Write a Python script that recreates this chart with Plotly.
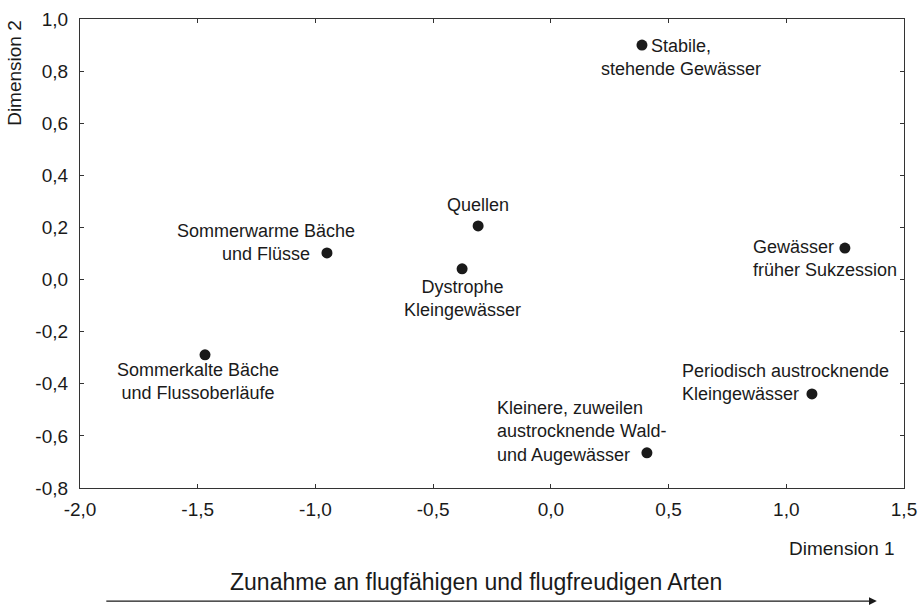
import plotly.graph_objects as go

# Data
labels = [
    "Stabile,<br>stehende Gewässer",
    "Quellen",
    "Dystrophe<br>Kleingewässer",
    "Sommerwarme Bäche<br>und Flüsse",
    "Sommerkalte Bäche<br>und Flussoberläufe",
    "Gewässer<br>früher Sukzession",
    "Periodisch austrocknende<br>Kleingewässer",
    "Kleinere, zuweilen<br>austrocknende Wald-<br>und Augewässer",
]
dim1 = [0.387, -0.309, -0.377, -0.951, -1.469, 1.249, 1.109, 0.408]
dim2 = [0.900, 0.206, 0.041, 0.102, -0.289, 0.121, -0.439, -0.665]

x_tickvals = [-2.0, -1.5, -1.0, -0.5, 0.0, 0.5, 1.0, 1.5]
x_ticktext = ["-2,0", "-1,5", "-1,0", "-0,5", "0,0", "0,5", "1,0", "1,5"]
y_tickvals = [1.0, 0.8, 0.6, 0.4, 0.2, 0.0, -0.2, -0.4, -0.6, -0.8]
y_ticktext = ["1,0", "0,8", "0,6", "0,4", "0,2", "0,0", "-0,2", "-0,4", "-0,6", "-0,8"]

x_title = "Dimension 1"
y_title = "Dimension 2"
arrow_text = "Zunahme an flugfähigen und flugfreudigen Arten"

# label placement styles (xanchor, align, xshift, yshift)
label_style = [
    ("center", "center", 39, -12),
    ("center", "center", 0, 21),
    ("center", "center", 0, -30),
    ("center", "center", -61, 10),
    ("center", "center", -7, -27),
    ("left", "left", -94, -10),
    ("left", "left", -132, 11),
    ("left", "left", -152, 21),
]

FONT = "Liberation Sans, Arial, sans-serif"
INK = "#1a1a1a"

fig = go.Figure()
fig.add_trace(go.Scatter(
    x=dim1, y=dim2, mode="markers",
    marker=dict(size=11, color=INK),
    hoverinfo="skip", showlegend=False,
))

annotations = []
for lab, xv, yv, (xa, al, xs, ys) in zip(labels, dim1, dim2, label_style):
    annotations.append(dict(
        x=xv, y=yv, xref="x", yref="y", text=lab, showarrow=False,
        xanchor=xa, yanchor="middle", align=al, xshift=xs, yshift=ys,
        font=dict(size=18, color=INK, family=FONT),
    ))

annotations.append(dict(
    x=0.991, y=-0.128, xref="paper", yref="paper", text=x_title, showarrow=False,
    xanchor="right", yanchor="middle", font=dict(size=19, color=INK, family=FONT),
))
annotations.append(dict(
    x=-0.079, y=0.885, xref="paper", yref="paper", text=y_title, showarrow=False,
    textangle=-90, xanchor="center", yanchor="middle",
    font=dict(size=19, color=INK, family=FONT),
))
annotations.append(dict(
    x=0.481, y=-0.200, xref="paper", yref="paper", text=arrow_text, showarrow=False,
    xanchor="center", yanchor="middle", font=dict(size=23, color=INK, family=FONT),
))
annotations.append(dict(
    x=0.967, y=-0.241, xref="paper", yref="paper",
    ax=-772, ay=0,
    text="", showarrow=True, arrowhead=2, arrowsize=1.3, arrowwidth=1.2,
    arrowcolor=INK,
))

axis_common = dict(
    showgrid=False, zeroline=False, showline=True, linecolor="#333333", linewidth=1.2,
    mirror="allticks", ticks="inside", ticklen=4, tickcolor="#333333",
    tickfont=dict(size=19, color=INK, family=FONT), automargin=False,
    ticklabeloverflow="allow",
)

fig.update_layout(
    width=918, height=606,
    margin=dict(l=80, r=14, t=19, b=118),
    paper_bgcolor="white", plot_bgcolor="white",
    xaxis=dict(range=[-2.0, 1.5], tickvals=x_tickvals, ticktext=x_ticktext,
               ticklabelstandoff=4, **axis_common),
    yaxis=dict(range=[-0.8, 1.0], tickvals=y_tickvals, ticktext=y_ticktext,
               ticklabelstandoff=7, **axis_common),
    annotations=annotations,
    font=dict(family=FONT, color=INK),
)

fig.write_html(
    "out.html",
    config={"displayModeBar": False},
    post_script="document.body.style.margin='0';document.body.style.overflow='hidden';",
)
